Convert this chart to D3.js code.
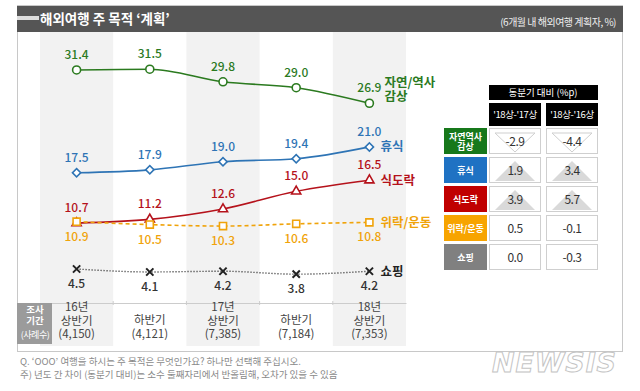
<!DOCTYPE html>
<html>
<head>
<meta charset="utf-8">
<script src="https://cdn.jsdelivr.net/npm/d3@7"></script>
<style>
  body { margin: 0; background: #fff; }
  svg { display: block; font-family: "Noto Sans CJK KR", "Noto Sans", sans-serif; }
</style>
</head>
<body>
<svg></svg>
<script>
// data
const periodLines = [['16년', '상반기', '(4,150)'], ['하반기', '(4,121)'], ['17년', '상반기', '(7,385)'], ['하반기', '(7,184)'], ['18년', '상반기', '(7,353)']]
const nature = [31.4, 31.5, 29.8, 29.0, 26.9]
const rest = [17.5, 17.9, 19.0, 19.4, 21.0]
const food = [10.7, 11.2, 12.6, 15.0, 16.5]
const leisure = [10.9, 10.5, 10.3, 10.6, 10.8]
const shopping = [4.5, 4.1, 4.2, 3.8, 4.2]

const tableRows = [['자연역사', '감상'], ['휴식'], ['식도락'], ['위락/운동'], ['쇼핑']]
const diff17 = [-2.9, 1.9, 3.9, 0.5, 0.0]
const diff16 = [-4.4, 3.4, 5.7, -0.1, -0.3]
const tableCols = ["'18상-'17상", "'18상-'16상"]

let width = 640
let height = 391

let svg = d3.select('svg').attr('width', width).attr('height', height)

// scales
let xScale = d3.scaleBand().domain(d3.range(5)).range([40, 406])
let xc = i => xScale(i) + xScale.bandwidth() / 2
let yScale = d3.scaleLinear().domain([0, 35]).range([302.3, 43.3])

// shaded columns
svg.selectAll('rect.shade')
    .data([0, 2, 4])
    .enter()
    .append('rect')
    .attr('class', 'shade')
    .attr('x', d => xScale(d))
    .attr('y', 32)
    .attr('width', xScale.bandwidth())
    .attr('height', 314)
    .attr('fill', '#f2f2f2')

// frame
svg.append('rect')
    .attr('x', 17.5).attr('y', 5.5).attr('width', 605).attr('height', 346)
    .attr('fill', 'none').attr('stroke', '#c8c8c8')

// header bar
svg.append('rect').attr('x', 17).attr('y', 6).attr('width', 606).attr('height', 26).attr('fill', '#555')
svg.append('rect').attr('x', 17).attr('y', 16).attr('width', 22).attr('height', 4).attr('fill', '#ddd')
svg.append('text').attr('x', 40).attr('y', 24).attr('fill', '#fff')
    .attr('font-size', 13.5).attr('font-weight', 'bold').text('해외여행 주 목적 ‘계획’')
svg.append('text').attr('x', 616).attr('y', 26).attr('fill', '#eee').attr('text-anchor', 'end')
    .attr('font-size', 10).attr('letter-spacing', -0.5).text('(6개월 내 해외여행 계획자, %)')

// x axis line
let xAxis = d3.axisBottom(xScale).tickSize(0).tickFormat('')
let gx = svg.append('g').attr('transform', 'translate(0,303)').call(xAxis)
gx.select('.domain').attr('stroke', '#ccc')
gx.selectAll('line.bnd').data(d3.range(1, 5)).enter().append('line')
    .attr('class', 'bnd').attr('x1', d => xScale(d)).attr('x2', d => xScale(d))
    .attr('y1', -2).attr('y2', 2).attr('stroke', '#ccc')

// period labels
periodLines.forEach((lines, i) => {
    let t = svg.append('text').attr('text-anchor', 'middle').attr('fill', '#444').attr('font-size', 11.5)
    let y0 = lines.length === 3 ? 311 : 324
    lines.forEach((l, j) => {
        t.append('tspan').attr('x', xc(i)).attr('y', y0 + j * 13.5).text(l)
    })
})

// survey period box
svg.append('rect').attr('x', 17).attr('y', 303).attr('width', 35).attr('height', 41).attr('fill', '#9b9b9b')
svg.append('text').attr('x', 35).attr('y', 313).attr('text-anchor', 'middle').attr('fill', '#fff')
    .attr('font-size', 9.5).attr('font-weight', 'bold').text('조사')
svg.append('text').attr('x', 35).attr('y', 324).attr('text-anchor', 'middle').attr('fill', '#fff')
    .attr('font-size', 9.5).attr('font-weight', 'bold').text('기간')
svg.append('text').attr('x', 35).attr('y', 338).attr('text-anchor', 'middle').attr('fill', '#fff')
    .attr('font-size', 9).attr('letter-spacing', -0.5).text('(사례수)')

// series
let series = [
    { values: nature, color: '#2b7a1f', dash: null, marker: 'circle', labelDy: -11, name: ['자연/역사', '감상'] },
    { values: rest, color: '#2e74b5', dash: null, marker: 'diamond', labelDy: -11, name: ['휴식'] },
    { values: food, color: '#b5121b', dash: null, marker: 'triangle', labelDy: -11, name: ['식도락'] },
    { values: leisure, color: '#f0a30a', dash: '4,3', marker: 'square', labelDy: 19, name: ['위락/운동'] },
    { values: shopping, color: '#222', dash: '1,2', marker: 'cross', labelDy: 19, name: ['쇼핑'] }
]

let line = d3.line().x((d, i) => xc(i)).y(d => yScale(d)).curve(d3.curveMonotoneX)

let symbolOf = {
    circle: d3.symbol().type(d3.symbolCircle).size(50),
    diamond: d3.symbol().type(d3.symbolSquare).size(34),
    triangle: d3.symbol().type(d3.symbolTriangle).size(36),
    square: d3.symbol().type(d3.symbolSquare).size(50),
    cross: d3.symbol().type(d3.symbolTimes).size(36)
}

series.forEach(s => {
    svg.append('path')
        .datum(s.values)
        .attr('d', line)
        .attr('fill', 'none')
        .attr('stroke', s.color)
        .attr('stroke-width', s.marker === 'cross' ? 1.4 : 1.6)
        .attr('stroke-dasharray', s.dash)

    svg.selectAll(null)
        .data(s.values)
        .enter()
        .append('path')
        .attr('d', symbolOf[s.marker])
        .attr('transform', (d, i) => 'translate(' + xc(i) + ',' + yScale(d) + ')' + (s.marker === 'diamond' ? ' rotate(45)' : ''))
        .attr('fill', s.marker === 'cross' ? 'none' : '#fff')
        .attr('stroke', s.color)
        .attr('stroke-width', s.marker === 'cross' ? 2 : 1.6)

    svg.selectAll(null)
        .data(s.values)
        .enter()
        .append('text')
        .attr('x', (d, i) => xc(i))
        .attr('y', d => yScale(d) + s.labelDy)
        .attr('text-anchor', 'middle')
        .attr('fill', s.color === '#222' ? '#333' : s.color)
        .attr('font-size', 12)
        .attr('font-weight', 500)
        .text(d => d.toFixed(1))

    // end name label
    let last = s.values[s.values.length - 1]
    let ny = s.name.length === 2 ? yScale(last) - 16 : yScale(last) + 4.5
    let t = svg.append('text').attr('fill', s.color).attr('font-size', 12.5).attr('font-weight', 'bold')
    s.name.forEach((n, j) => {
        t.append('tspan').attr('x', xc(4) + (s.name.length === 2 ? 15 : 11)).attr('y', ny + j * 14).text(n)
    })
})

// comparison table
let rowColors = ['#17781b', '#1f72c3', '#c00000', '#f7a400', '#808080']
let colX = [489, 546]
let colW = 52
let rowY = d3.range(5).map(i => 128 + i * 29)
let rowH = 26

svg.append('rect').attr('x', 489).attr('y', 85).attr('width', 109).attr('height', 15).attr('fill', '#000')
svg.append('text').attr('x', 543).attr('y', 96).attr('text-anchor', 'middle').attr('fill', '#fff')
    .attr('font-size', 9.5).text('동분기 대비 (%p)')
tableCols.forEach((c, i) => {
    svg.append('rect').attr('x', colX[i]).attr('y', 103).attr('width', colW).attr('height', 23).attr('fill', '#000')
    svg.append('text').attr('x', colX[i] + colW / 2).attr('y', 118).attr('text-anchor', 'middle').attr('fill', '#fff')
        .attr('font-size', 9.5).attr('letter-spacing', -0.4).text(c)
})

tableRows.forEach((r, i) => {
    svg.append('rect').attr('x', 444).attr('y', rowY[i]).attr('width', 43).attr('height', rowH).attr('fill', rowColors[i])
    let t = svg.append('text').attr('text-anchor', 'middle').attr('fill', '#fff').attr('font-size', 9).attr('font-weight', 'bold')
    r.forEach((l, j) => {
        t.append('tspan').attr('x', 465.5).attr('y', rowY[i] + (r.length === 2 ? 11.5 : 16.5) + j * 10.5).text(l)
    })
    ;[diff17[i], diff16[i]].forEach((v, k) => {
        let x0 = colX[k]
        svg.append('rect').attr('x', x0 + 0.5).attr('y', rowY[i] + 0.5).attr('width', colW - 1).attr('height', rowH - 1)
            .attr('fill', '#fff').attr('stroke', '#cfcfcf')
        if (Math.abs(v) >= 1) {
            let cx = x0 + colW / 2
            let top = rowY[i] + 4, bot = rowY[i] + rowH - 2
            let pts = v > 0
                ? [[cx, top], [cx + 20, bot], [cx - 20, bot]]
                : [[cx - 20, top + 1], [cx + 20, top + 1], [cx, bot]]
            svg.append('path').attr('d', 'M' + pts.join('L') + 'Z')
                .attr('fill', v > 0 ? '#d9d9d9' : '#fff')
                .attr('stroke', v > 0 ? 'none' : '#cfcfcf')
        }
        svg.append('text').attr('x', x0 + colW / 2).attr('y', rowY[i] + 18).attr('text-anchor', 'middle')
            .attr('fill', '#333').attr('font-size', 12).attr('letter-spacing', -0.5).text(v.toFixed(1))
    })
})

// notes
svg.append('text').attr('x', 20).attr('y', 365).attr('fill', '#8a8a8a').attr('font-size', 9.5)
    .text("Q. ‘OOO’ 여행을 하시는 주 목적은 무엇인가요? 하나만 선택해 주십시오.")
svg.append('text').attr('x', 20).attr('y', 378).attr('fill', '#8a8a8a').attr('font-size', 9.5)
    .text('주) 년도 간 차이 (동분기 대비)는 소수 둘째자리에서 반올림해, 오차가 있을 수 있음')

// watermark
svg.append('text').attr('x', 492).attr('y', 372).attr('fill', '#fff').attr('stroke', '#c4c4c4')
    .attr('stroke-width', 1).attr('font-family', 'DejaVu Sans').attr('font-weight', 'bold')
    .attr('font-style', 'italic').attr('font-size', 27).attr('textLength', 124).text('NEWSIS')
</script>
</body>
</html>
